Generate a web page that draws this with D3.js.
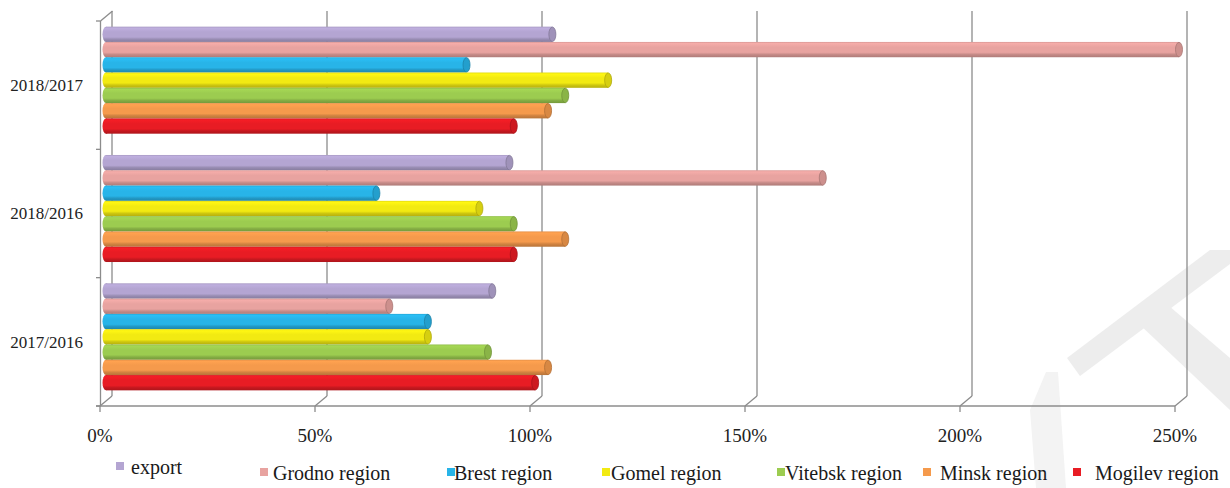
<!DOCTYPE html>
<html><head><meta charset="utf-8">
<script src="https://cdn.jsdelivr.net/npm/d3@7"></script>
<style>
html,body{margin:0;padding:0;background:#fff;}
svg{display:block;font-family:"Liberation Serif","Times New Roman",serif;}
</style></head>
<body><svg id="chart" width="1230" height="488"></svg>
<script>
// ---- data ----
const categories = ["2018/2017", "2018/2016", "2017/2016"];
const seriesNames = ["export", "Grodno region", "Brest region", "Gomel region", "Vitebsk region", "Minsk region", "Mogilev region"];
// values in % for categories [2017/2016, 2018/2016, 2018/2017]
const exportVals  = [90, 94, 104];
const grodnoVals  = [66, 167, 250];
const brestVals   = [75, 63, 84];
const gomelVals   = [75, 87, 117];
const vitebskVals = [89, 95, 107];
const minskVals   = [103, 107, 103];
const mogilevVals = [100, 95, 95];
const valueCats = ["2017/2016", "2018/2016", "2018/2017"];
const tickValues = [0, 50, 100, 150, 200, 250];
const colors = ["#b4a5d2", "#e8a3a0", "#28b4e8", "#f2ea12", "#9ccc50", "#f59a4c", "#e81c24"];

const seriesVals = [exportVals, grodnoVals, brestVals, gomelVals, vitebskVals, minskVals, mogilevVals];

const svg = d3.select("#chart");
const font = '"Liberation Serif","Times New Roman",serif';

// ---- watermark (faint) ----
const wm = svg.append("g").attr("fill", "#ededed");
wm.append("polygon").attr("points", "1067,358 1210,250 1230,250 1230,264 1080,376");
wm.append("polygon").attr("points", "1162,300 1230,358 1230,410 1138,323");
wm.append("polygon").attr("points", "1030,410 1046,372 1058,372 1066,488 1036,488").attr("fill", "#f3f3f3");

// ---- scales ----
const xFront = d3.scaleLinear().domain([0, 250]).range([100, 1175]);
const depthX = 12, depthY = -10;
const floorY = 406, topY = 11;
const xBar = d3.scaleLinear().domain([0, 250]).range([106, 1179]);

const yFront = d3.scaleBand().domain(categories).range([21, floorY]);
const yCat = d3.scaleBand().domain(categories).range([21, floorY]).paddingInner(0.166).paddingOuter(0.083);
const ySer = d3.scaleBand().domain(seriesNames).range([0, yCat.bandwidth()]).paddingInner(0);

const gridColor = "#8c8c8c";

// back-wall gridlines
const grid = svg.append("g").attr("stroke", gridColor).attr("stroke-width", 1.3).attr("fill", "none");
tickValues.forEach(v => {
  const xf = xFront(v);
  grid.append("line").attr("x1", xf + depthX).attr("x2", xf + depthX).attr("y1", topY).attr("y2", floorY + depthY);
  grid.append("line").attr("x1", xf).attr("y1", floorY).attr("x2", xf + depthX).attr("y2", floorY + depthY);
  grid.append("line").attr("x1", xf).attr("x2", xf).attr("y1", floorY).attr("y2", floorY + 6);
});
// floor front line
grid.append("line").attr("x1", 96).attr("x2", xFront(250)).attr("y1", floorY).attr("y2", floorY);
// left wall
grid.append("line").attr("x1", 100.5).attr("x2", 100.5).attr("y1", 21).attr("y2", floorY);
grid.append("line").attr("x1", 100.5).attr("y1", 21).attr("x2", 100.5 + depthX).attr("y2", 21 + depthY);
const catTicks = [21].concat(categories.map(c => yFront(c) + yFront.bandwidth()));
catTicks.forEach(y => grid.append("line").attr("x1", 96).attr("x2", 100.5).attr("y1", y).attr("y2", y));

// ---- gradients ----
const defs = svg.append("defs");
colors.forEach((c, i) => {
  const g = defs.append("linearGradient").attr("id", "grad" + i).attr("x1", 0).attr("y1", 0).attr("x2", 0).attr("y2", 1);
  const base = d3.color(c);
  [[0, base.darker(0.2)], [0.1, base.brighter(0.15)], [0.35, base], [0.68, base], [0.82, base.darker(0.45)], [1, base.darker(0.8)]]
    .forEach(([o, col]) => g.append("stop").attr("offset", o).attr("stop-color", col.formatHex()));
});

// ---- bars ----
const barsG = svg.append("g");
categories.forEach(cat => {
  const ci = valueCats.indexOf(cat);
  seriesNames.forEach((s, si) => {
    const v = seriesVals[si][ci];
    const y = yCat(cat) - 5 + ySer(s);
    const h = ySer.bandwidth();
    const x0 = xBar(0), x1 = xBar(v);
    const rx = 3.5;
    const g = barsG.append("g");
    g.append("ellipse").attr("cx", x0).attr("cy", y + h / 2).attr("rx", rx).attr("ry", h / 2).attr("fill", `url(#grad${si})`);
    g.append("rect").attr("x", x0).attr("y", y).attr("width", x1 - x0).attr("height", h).attr("fill", `url(#grad${si})`);
    g.append("ellipse").attr("cx", x1).attr("cy", y + h / 2).attr("rx", rx).attr("ry", h / 2 - 0.4)
      .attr("fill", d3.color(colors[si]).darker(0.35).formatHex())
      .attr("stroke", d3.color(colors[si]).darker(0.9).formatHex()).attr("stroke-width", 0.8);
  });
});

// ---- axis labels ----
const tl = svg.append("g").attr("font-family", font).attr("font-size", 19).attr("fill", "#222").attr("text-anchor", "middle");
tickValues.forEach(v => tl.append("text").attr("x", xFront(v)).attr("y", 442).text(v + "%"));

const cl = svg.append("g").attr("font-family", font).attr("font-size", 17).attr("fill", "#222").attr("text-anchor", "end");
categories.forEach(c => cl.append("text").attr("x", 83).attr("y", yFront(c) + yFront.bandwidth() / 2).attr("dy", "0.35em").text(c));

// ---- legend ----
const legendX = [131, 273, 454, 611, 785, 940, 1095];
const markerX = [116, 260, 447, 602, 777, 923, 1073];
const legendY = [474, 480, 480, 480, 480, 480, 480];
const lg = svg.append("g").attr("font-family", font).attr("font-size", 20).attr("fill", "#1a1a1a");
seriesNames.forEach((s, i) => {
  lg.append("rect").attr("x", markerX[i]).attr("y", legendY[i] - 12).attr("width", 8).attr("height", 8).attr("fill", colors[i]);
  lg.append("text").attr("x", legendX[i]).attr("y", legendY[i]).text(s);
});
</script>
</body></html>
